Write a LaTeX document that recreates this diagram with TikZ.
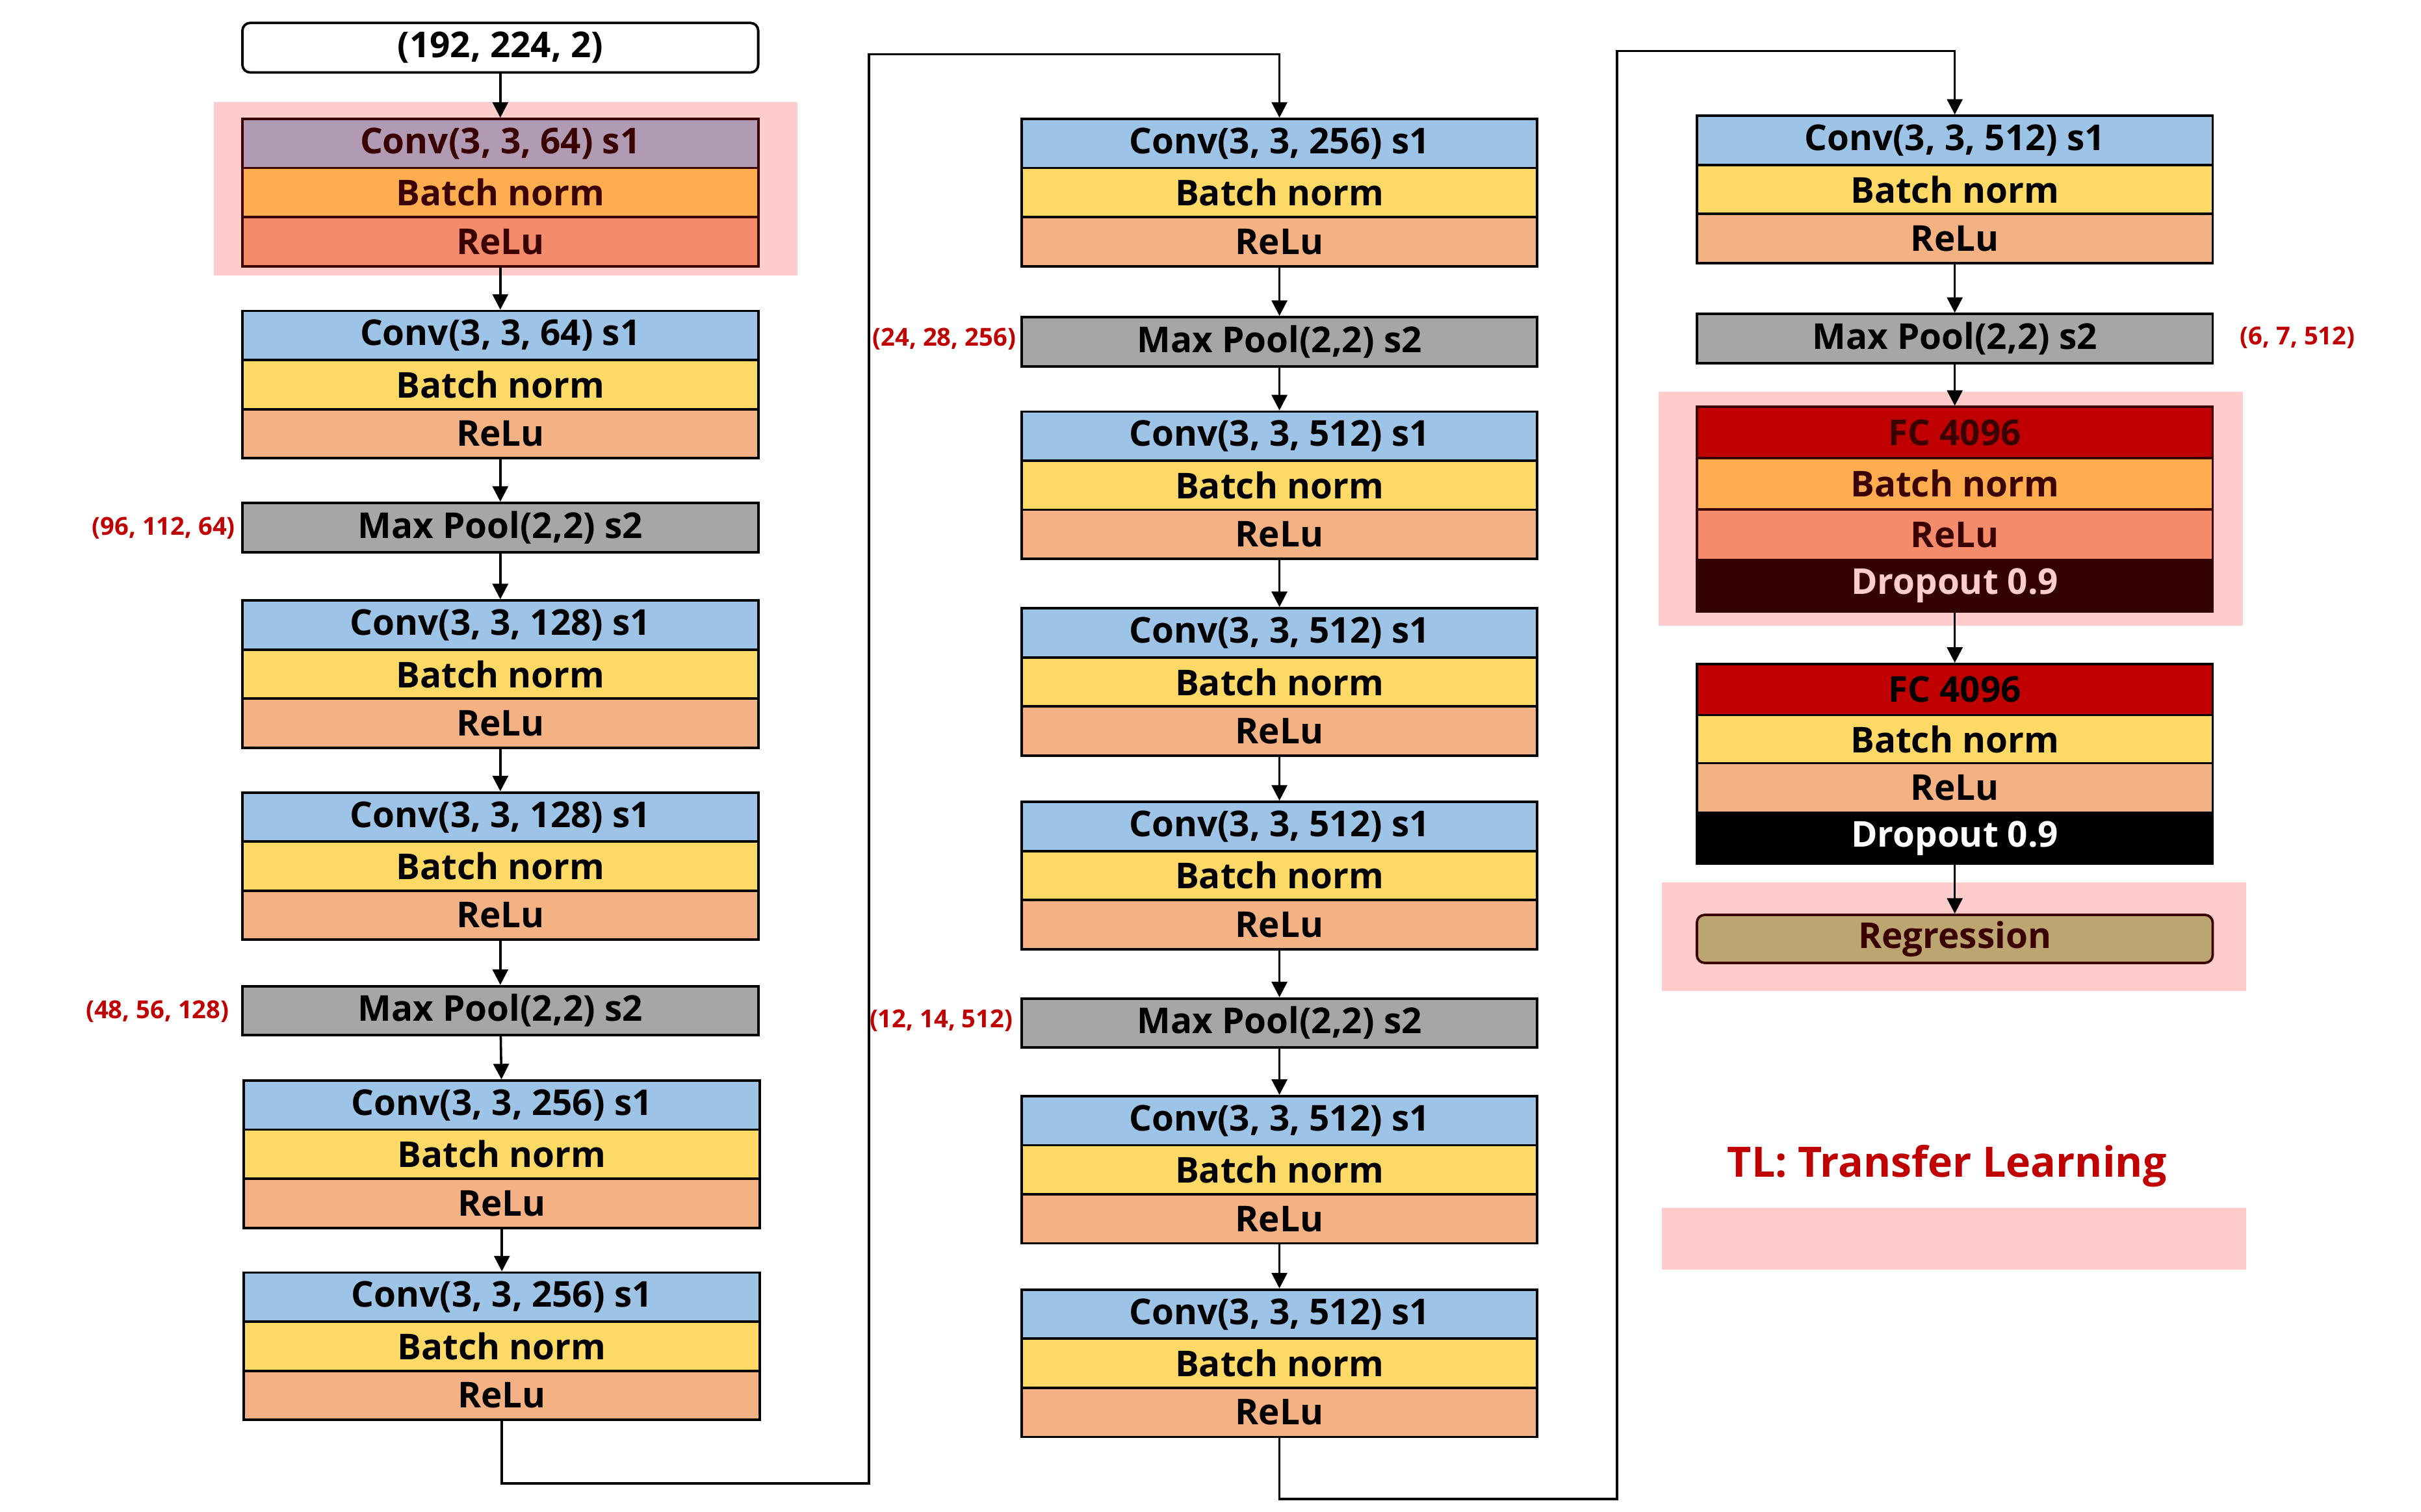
\documentclass[tikz,border=0pt]{standalone}
\usepackage{fontspec}
\setmainfont{Open Sans}
\usetikzlibrary{arrows.meta}
\definecolor{cblue}{HTML}{9DC3E6}
\definecolor{cyel}{HTML}{FFD966}
\definecolor{crelu}{HTML}{F4B183}
\definecolor{cgray}{HTML}{A6A6A6}
\definecolor{cpur}{HTML}{B09AB4}
\definecolor{corg}{HTML}{FFAD4F}
\definecolor{crelu2}{HTML}{F48B6B}
\definecolor{cfc}{HTML}{C00000}
\definecolor{cdrop}{HTML}{330000}
\definecolor{cpink}{HTML}{FFCCCC}
\definecolor{creg}{HTML}{BBA570}
\definecolor{cbrown}{HTML}{3B0000}
\definecolor{cred}{HTML}{C00000}
\tikzset{
  lay/.style={draw=black,line width=1.6pt,minimum width=333pt,minimum height=31.7pt,inner sep=0pt,anchor=north,font=\bfseries\fontsize{23}{23}\selectfont},
  tl/.style={draw=cbrown,text=cbrown},
  dim/.style={text=cred,font=\bfseries\fontsize{16}{16}\selectfont,inner sep=0pt},
  arr/.style={line width=1.5pt,-{Triangle[length=10pt,width=10pt]}},
  conn/.style={line width=1.5pt},
}
\newcommand\trip[4]{%
  \node[lay,fill=cblue] (#1a) at (#2,#3) {#4};
  \node[lay,fill=cyel] (#1b) at (#2,#3+31.7) {Batch norm};
  \node[lay,fill=crelu] (#1c) at (#2,#3+63.4) {ReLu};}
\newcommand\pool[3]{\node[lay,fill=cgray] (#1) at (#2,#3) {Max Pool(2,2) s2};}
\begin{document}
\begin{tikzpicture}[x=1pt,y=-1pt]
\useasboundingbox (0,0) rectangle (1563,976);
% pink backgrounds
\fill[cpink] (138,66) rectangle (515,178);
\fill[cpink] (1071,253) rectangle (1448,404);
\fill[cpink] (1073,570) rectangle (1450,640);
\fill[cpink] (1073,780) rectangle (1450,820);
% column 1
\node[lay,rounded corners=5pt,fill=white,minimum height=32pt] (in) at (323,14) {(192, 224, 2)};
\node[lay,tl,fill=cpur] (b1a) at (323,76) {Conv(3, 3, 64) s1};
\node[lay,tl,fill=corg] (b1b) at (323,107.7) {Batch norm};
\node[lay,tl,fill=crelu2] (b1c) at (323,139.4) {ReLu};
\trip{b2}{323}{200}{Conv(3, 3, 64) s1}
\pool{p1}{323}{324}
\trip{b3}{323}{387}{Conv(3, 3, 128) s1}
\trip{b4}{323}{511}{Conv(3, 3, 128) s1}
\pool{p2}{323}{636}
\trip{b5}{324}{697}{Conv(3, 3, 256) s1}
\trip{b6}{324}{821}{Conv(3, 3, 256) s1}
% column 2
\trip{c1}{826}{76}{Conv(3, 3, 256) s1}
\pool{q1}{826}{204}
\trip{c2}{826}{265}{Conv(3, 3, 512) s1}
\trip{c3}{826}{392}{Conv(3, 3, 512) s1}
\trip{c4}{826}{517}{Conv(3, 3, 512) s1}
\pool{q2}{826}{644}
\trip{c5}{826}{707}{Conv(3, 3, 512) s1}
\trip{c6}{826}{832}{Conv(3, 3, 512) s1}
% column 3
\trip{d1}{1262}{74}{Conv(3, 3, 512) s1}
\pool{r1}{1262}{202}
\node[lay,tl,fill=cfc,minimum height=33pt] (f1a) at (1262,262) {FC 4096};
\node[lay,tl,fill=corg,minimum height=33pt] (f1b) at (1262,295) {Batch norm};
\node[lay,tl,fill=crelu2,minimum height=33pt] (f1c) at (1262,328) {ReLu};
\node[lay,draw=cdrop,fill=cdrop,text=cpink,minimum height=33pt] (f1d) at (1262,361) {Dropout 0.9};
\node[lay,fill=cfc,minimum height=33pt] (f2a) at (1262,428) {FC 4096};
\node[lay,fill=cyel,minimum height=31pt] (f2b) at (1262,461) {Batch norm};
\node[lay,fill=crelu,minimum height=32pt] (f2c) at (1262,492) {ReLu};
\node[lay,fill=black,text=white,minimum height=33pt] (f2d) at (1262,524) {Dropout 0.9};
\node[lay,tl,rounded corners=5pt,fill=creg,minimum height=31pt] (reg) at (1262,590) {Regression};
% dimension labels
\node[dim,anchor=east] (l1) at (152,341) {(96, 112, 64)};
\node[dim,anchor=east] (l2) at (148,653) {(48, 56, 128)};
\node[dim,anchor=east] (l3) at (656,219) {(24, 28, 256)};
\node[dim,anchor=east] (l4) at (654,659) {(12, 14, 512)};
\node[dim,anchor=west] (l5) at (1446,218) {(6, 7, 512)};
\node[text=cred,font=\bfseries\fontsize{27}{27}\selectfont,inner sep=0pt] (tl) at (1257,753) {TL: Transfer Learning};
% arrows
\draw[arr] (in) -- (b1a);
\draw[arr] (b1c) -- (b2a);
\draw[arr] (b2c) -- (p1);
\draw[arr] (p1) -- (b3a);
\draw[arr] (b3c) -- (b4a);
\draw[arr] (b4c) -- (p2);
\draw[arr] (p2) -- (b5a);
\draw[arr] (b5c) -- (b6a);
\coordinate (k1) at (561,35);
\draw[arr] (b6c.south) |- (561,958) -- (k1) -| (c1a.north);
\draw[arr] (c1c) -- (q1);
\draw[arr] (q1) -- (c2a);
\draw[arr] (c2c) -- (c3a);
\draw[arr] (c3c) -- (c4a);
\draw[arr] (c4c) -- (q2);
\draw[arr] (q2) -- (c5a);
\draw[arr] (c5c) -- (c6a);
\coordinate (k2) at (1044,33);
\draw[arr] (c6c.south) |- (1044,968) -- (k2) -| (d1a.north);
\draw[arr] (d1c) -- (r1);
\draw[arr] (r1) -- (f1a);
\draw[arr] (f1d) -- (f2a);
\draw[arr] (f2d) -- (reg);
\end{tikzpicture}
\end{document}
